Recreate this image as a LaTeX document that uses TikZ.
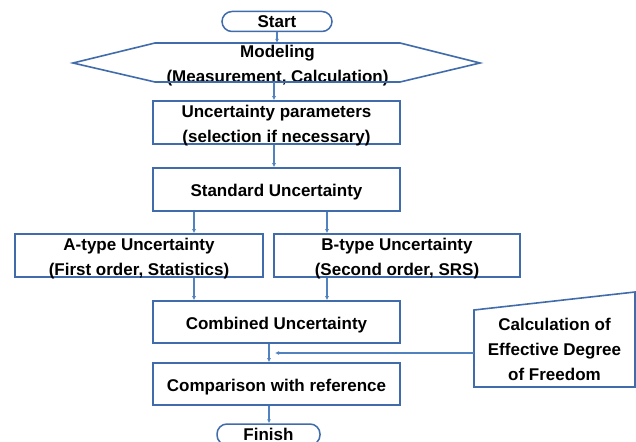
\documentclass[tikz,border=0pt]{standalone}
\usepackage{fontspec}
\setmainfont{Liberation Sans}
\usetikzlibrary{arrows.meta}
\definecolor{boxc}{RGB}{65,108,172}
\definecolor{arrc}{RGB}{80,130,192}
\begin{document}
\begin{tikzpicture}[x=1pt,y=-1pt,
  txt/.style={font=\fontsize{17}{25}\selectfont\bfseries, align=center, inner sep=0pt},
  lbl/.style={txt, yshift=-3pt},
  box/.style={draw=boxc, line width=1.6pt, rectangle, minimum width=247pt, minimum height=43pt, inner sep=0pt},
  term/.style={txt, draw=boxc, line width=1.5pt, rectangle, rounded corners=10pt, minimum height=20pt},
  arr/.style={draw=arrc, line width=1.3pt, -{Latex[length=4pt,width=4pt]}}]
\useasboundingbox (0,0) rectangle (636,441);
\fill[white] (0,0) rectangle (636,441);
% nodes
\node[term, minimum width=110pt] (start) at (277,21.5) {Start};
\node[minimum width=247pt, minimum height=39pt, inner sep=0pt,
      label={[lbl]center:Modeling\\(Measurement, Calculation)}] (model) at (277.5,62.5) {};
\draw[boxc, line width=1.6pt] (155,43) -- (400,43) -- (480,63) -- (400,82) -- (155,82) -- (73,63) -- cycle;
\node[box, label={[lbl]center:Uncertainty parameters\\(selection if necessary)}] (param) at (276.5,122.5) {};
\node[box, label={[lbl]center:Standard Uncertainty}] (std) at (276.5,189.5) {};
\node[box, minimum width=248pt, label={[lbl]center:A-type Uncertainty\\(First order, Statistics)}] (atype) at (139,255.5) {};
\node[box, minimum width=246pt, label={[lbl]center:B-type Uncertainty\\(Second order, SRS)}] (btype) at (397,255.5) {};
\node[box, minimum height=42pt, label={[lbl]center:Combined Uncertainty}] (comb) at (276.5,322) {};
\node[box, minimum height=42pt, label={[lbl]center:Comparison with reference}] (comp) at (276.5,384) {};
\node[term, minimum width=103pt, minimum height=21pt] (finish) at (268.5,434.5) {Finish};
\node[minimum width=161pt, minimum height=77pt, inner sep=0pt,
      label={[txt, yshift=-1pt]center:Calculation of\\Effective Degree\\of Freedom}] (calc) at (554.5,348.5) {};
\draw[boxc, line width=1.6pt] (474,310) -- (635,292) -- (635,387) -- (474,387) -- cycle;
% coordinates for connector positions
\coordinate (xa) at (194,0);
\coordinate (xb) at (327,0);
\coordinate (xc) at (269,0);
\coordinate (xm) at (274,0);
\coordinate (join) at (275,353);
% connectors
\draw[arr] (start.south) -- (start.south |- model.north);
\draw[arr] (model.south -| xm) -- (param.north -| xm);
\draw[arr] (param.south -| xm) -- (std.north -| xm);
\draw[arr] (std.south -| xa) -- (atype.north -| xa);
\draw[arr] (std.south -| xb) -- (btype.north -| xb);
\draw[arr] (atype.south -| xa) -- (comb.north -| xa);
\draw[arr] (btype.south -| xb) -- (comb.north -| xb);
\draw[arr] (comb.south -| xc) -- (comp.north -| xc);
\draw[arr] (comp.south -| xc) -- (finish.north -| xc);
\draw[arr] (calc.west |- join) -- (join);
\end{tikzpicture}
\end{document}
